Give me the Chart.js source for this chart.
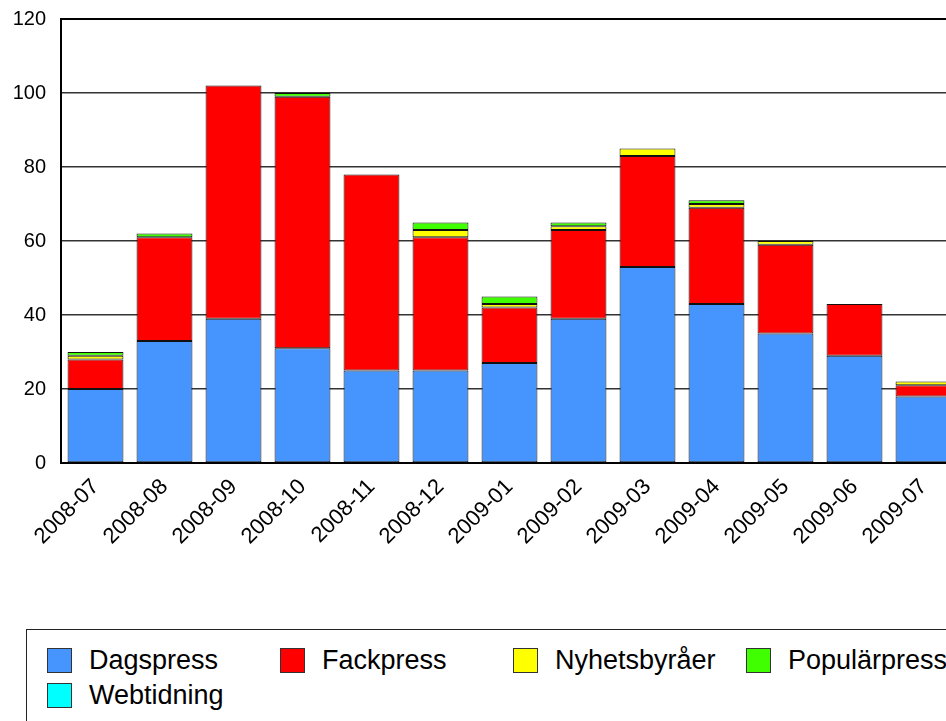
<!DOCTYPE html>
<html>
<head>
<meta charset="utf-8">
<script src="https://cdn.jsdelivr.net/npm/chart.js@4"></script>
<style>
    html, body { margin: 0; padding: 0; background: #fff; overflow: hidden; width: 946px; height: 721px; }
    #wrap { position: absolute; left: 0; top: -8px; width: 960px; height: 608px; }
    #legend {
        position: absolute; left: 26px; top: 629px; width: 960px; height: 100px;
        border: 1px solid #222; box-sizing: border-box;
        font-family: "Liberation Sans", Arial, sans-serif; font-size: 27px; color: #000;
        display: grid; grid-template-columns: repeat(4, 233px); grid-auto-rows: 35px;
        padding: 18px 0 0 20px;
    }
    #legend .item { display: flex; align-items: center; height: 25px; white-space: nowrap; }
    #legend .box { width: 23px; height: 23px; border: 1px solid #333; margin-right: 17px; flex: none; }
</style>
</head>
<body>
<div id="wrap"><canvas id="salesChart" width="960" height="608"></canvas></div>
<div id="legend"></div>
<script>
(function () {

    var months = ["2008-07", "2008-08", "2008-09", "2008-10", "2008-11", "2008-12", "2009-01",
        "2009-02", "2009-03", "2009-04", "2009-05", "2009-06", "2009-07"];

    var seriesNames = ["Dagspress", "Fackpress", "Nyhetsbyråer", "Populärpress", "Webtidning"];
    var seriesColors = ["#4695FF", "#FF0000", "#FFFF00", "#40FF00", "#00FFFF"];

    var dagspress = [20, 33, 39, 31, 25, 25, 27, 39, 53, 43, 35, 29, 18];
    var fackpress = [8, 28, 63, 68, 53, 36, 15, 24, 30, 26, 24, 14, 3];
    var nyhetsbyraer = [1, 0, 0, 0, 0, 2, 1, 1, 2, 1, 1, 0, 1];
    var popularpress = [1, 1, 0, 1, 0, 2, 2, 1, 0, 1, 0, 0, 0];
    var webtidning = [0, 0, 0, 0, 0, 0, 0, 0, 0, 0, 0, 0, 0];

    var yTicks = [0, 20, 40, 60, 80, 100, 120];

    var seriesValues = [dagspress, fackpress, nyhetsbyraer, popularpress, webtidning];

    var datasets = seriesNames.map(function (name, i) {
        return {
            label: name,
            data: seriesValues[i],
            backgroundColor: seriesColors[i],
            borderColor: "#111",
            borderWidth: 1,
            borderSkipped: false,
            categoryPercentage: 1,
            barPercentage: 0.81
        };
    });

    var font = { family: "'Liberation Sans', Arial, sans-serif", size: 20 };

    new Chart(document.getElementById("salesChart").getContext("2d"), {
        type: "bar",
        data: { labels: months, datasets: datasets },
        options: {
            responsive: false,
            animation: false,
            layout: { padding: { top: 10, left: 0, right: 2, bottom: 0 } },
            plugins: { legend: { display: false }, tooltip: { enabled: false } },
            scales: {
                x: {
                    stacked: true,
                    grid: { display: false, drawTicks: false },
                    border: { color: "#000", width: 2 },
                    ticks: { color: "#000", font: { family: font.family, size: 22 }, minRotation: 45, maxRotation: 45, padding: 11, autoSkip: false },
                    afterFit: function (scale) { scale.height = 137; }
                },
                y: {
                    stacked: true,
                    min: 0,
                    max: 120,
                    afterBuildTicks: function (scale) {
                        scale.ticks = yTicks.map(function (v) { return { value: v }; });
                    },
                    grid: {
                        color: function (ctx) { return ctx.tick && ctx.tick.value === 120 ? "#000" : "#333"; },
                        lineWidth: function (ctx) { return ctx.tick && ctx.tick.value === 120 ? 2 : 1.5; },
                        drawTicks: false
                    },
                    border: { color: "#000", width: 2 },
                    ticks: { color: "#000", font: font, padding: 15 },
                    afterFit: function (scale) { scale.width = 61; }
                }
            }
        }
    });

    // legend built from the same series arrays
    var legend = document.getElementById("legend");
    seriesNames.forEach(function (name, i) {
        var item = document.createElement("div");
        item.className = "item";
        item.innerHTML = '<span class="box" style="background:' + seriesColors[i] + '"></span>' + name;
        legend.appendChild(item);
    });

})();
</script>
</body>
</html>
